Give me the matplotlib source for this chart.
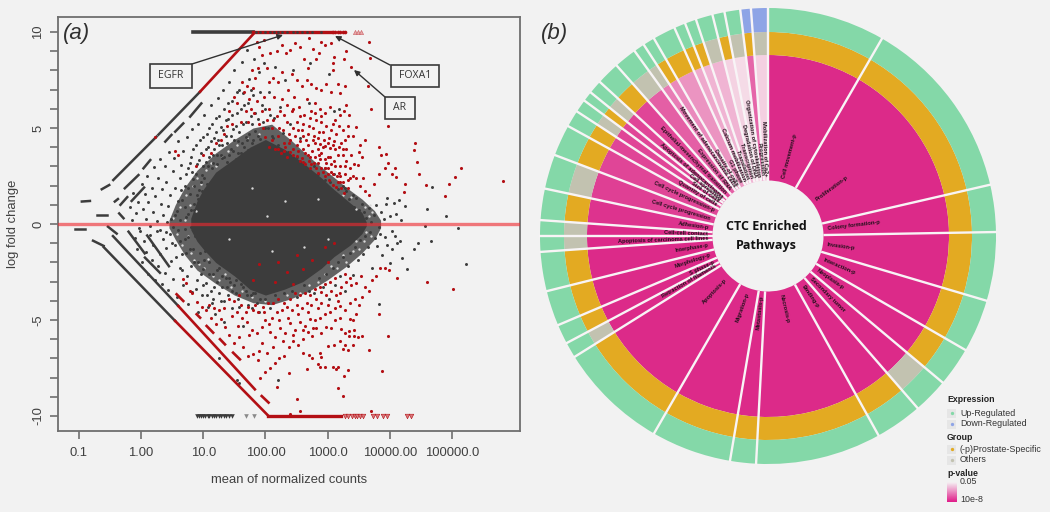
import matplotlib
matplotlib.use("Agg")
import matplotlib.pyplot as plt
from matplotlib.colors import LinearSegmentedColormap
from matplotlib.patches import Rectangle
import numpy as np

plt.rcParams['font.family'] = ['Liberation Sans', 'DejaVu Sans']

W, H = 1050, 512
BG = '#f2f2f2'

# ---- panel a data, x values are log10(mean of normalized counts) ----
x_ticks = [-1, 0, 1, 2, 3, 4, 5]
x_labels = ['0.1', '1.00', '10.0', '100.00', '1000.0', '10000.00', '100000.0']
y_labels = [-10, -5, 0, 5, 10]

# solid core of the cloud
core_x = [0.8, 0.9, 1.0, 1.2, 1.5, 1.75, 2.0, 2.3, 2.6, 2.9, 3.1, 3.36, 3.55, 3.62]
core_hi = [0.3, 1.2, 1.8, 2.7, 3.4, 4.0, 4.4, 3.9, 3.2, 2.4, 1.8, 1.1, 0.6, 0.1]
core_lo = [-0.3, -0.9, -1.3, -2.0, -2.7, -3.4, -3.7, -3.4, -3.0, -2.3, -1.7, -1.1, -0.5, -0.1]

# speckled band round the core
halo_x = [0.45, 0.55, 0.7, 0.9, 1.2, 1.5, 1.8, 2.1, 2.4, 2.7, 3.0, 3.3, 3.55, 3.75, 3.85]
halo_hi = [0.2, 1.0, 1.9, 2.8, 3.7, 4.4, 5.0, 5.2, 4.4, 3.5, 2.7, 1.9, 1.3, 0.7, 0.2]
halo_lo = [-0.2, -0.8, -1.6, -2.4, -3.1, -3.7, -4.1, -4.2, -3.9, -3.5, -2.9, -2.2, -1.5, -0.8, -0.2]

# pale gaps showing through the band
gap_pts = [
    (0.52, 0.3), (0.58, -0.5), (0.62, 0.9), (0.66, -1.1), (0.7, 0.2), (0.72, 1.5), (0.75, -0.6), (0.78, 1.0),
    (0.8, -1.5), (0.83, 2.0), (0.86, -1.9), (0.88, 0.7), (0.9, 2.4), (0.94, -2.1), (0.97, 2.1), (1.02, -2.3),
    (1.05, 2.8), (1.08, -1.8), (1.12, 3.2), (1.15, -2.7), (1.2, 3.0), (1.25, -2.9), (1.3, 3.5), (1.35, -2.6),
    (1.4, 3.8), (1.45, -3.3), (1.55, 4.1), (1.62, -3.5), (1.7, 4.5), (1.78, -3.8), (1.9, 4.7), (2.0, -4.0),
    (2.35, -3.7), (2.55, -3.6), (2.7, -3.2), (2.85, -3.0), (2.95, -2.6), (3.05, -2.2), (3.15, -2.3), (3.25, -1.6),
    (3.3, -2.0), (3.4, -1.4), (3.45, -0.9), (3.5, -1.3), (3.58, -0.9), (3.62, -0.4), (3.66, 0.4), (3.7, -0.6),
    (3.72, 0.6), (3.68, 1.0), (3.6, 0.9), (3.45, 0.8), (3.38, 1.4), (3.25, 1.5), (2.02, 0.4), (2.32, 1.2),
    (2.1, -1.4), (2.62, -1.2), (1.78, 1.9), (1.42, -0.8), (2.85, 1.3), (3.0, -0.8),
]

# runs of points on the low count diagonals (x0, y0, x1, y1)
black_runs = [
    (-0.63, 1.81, -0.51, 2.03), (-0.445, 2.29, 0.25, 4.55), (0.28, 4.65, 0.95, 6.89),
    (-0.42, 1.17, -0.37, 1.3), (-0.26, 1.86, -0.04, 2.55), (0.04, 2.9, 0.15, 3.33),
    (0.39, 4.29, 0.49, 4.64), (0.55, 4.81, 0.68, 5.24), (0.79, 5.59, 0.97, 6.28),
    (-0.71, 0.47, -0.55, 0.47), (-1.06, -0.26, -0.9, -0.26), (-0.95, 1.17, -0.82, 1.2),
    (-0.35, 0.55, -0.28, 0.3), (-0.33, 1.0, -0.22, 1.4), (-0.15, 1.2, 0.05, 1.9),
    (-0.77, -0.87, -0.6, -1.14), (-0.53, -0.14, -0.39, -0.5), (-0.2, -0.4, 0.06, -1.53),
    (-0.6, -1.2, 0.55, -5.05), (-0.45, -0.63, 0.6, -4.27),
    (0.064, -1.75, 0.305, -2.54), (0.1, -0.6, 0.45, -2.2),
]
red_runs = [
    (0.95, 6.89, 1.83, 9.98), (0.55, -5.05, 2.05, -10.0), (0.6, -4.27, 1.83, -8.61),
    (1.94, -8.96, 2.05, -9.3), (0.573, -3.66, 0.68, -4.01), (0.895, -4.7, 0.95, -4.88),
    (1.055, -5.31, 1.16, -5.66), (1.27, -6.0, 1.35, -6.27), (1.48, -6.7, 1.59, -7.05),
]

# points stacked at the +10 / -10 limits
top_black = (0.84, 1.8)
top_red = (1.8, 3.05)
bottom_red = (2.04, 3.22)
top_black_dots = [1.85, 1.92, 2.0, 2.08, 2.13, 2.2, 2.27, 2.35, 2.44, 2.5, 2.58, 2.67, 2.75, 2.9]
top_red_dots = [3.08, 3.12, 3.17, 3.2, 3.24, 3.28]
top_tri = [3.44, 3.49, 3.53]
bottom_black_tri = [0.9, 0.93, 0.96, 1.0, 1.03, 1.07, 1.1, 1.14, 1.18, 1.21, 1.25, 1.29, 1.33, 1.37, 1.42, 1.47]
bottom_grey_tri = [1.68, 1.82]
bottom_red_tri = [3.28, 3.33, 3.39, 3.44, 3.47, 3.52, 3.57, 3.73, 3.79, 3.89, 3.95, 4.27, 4.34]

black_pts = [
    (-0.18, 0.9), (-0.14, 0.2), (-0.12, 1.6), (-0.08, 0.55), (-0.05, 1.15), (-0.03, -0.2), (0.01, 2.1), (0.03, 0.8),
    (0.06, 1.55), (0.08, 0.25), (0.1, 2.5), (0.12, 1.15), (0.15, -0.1), (0.17, 1.9), (0.19, 0.6), (0.21, 2.95),
    (0.23, 1.45), (0.26, 0.15), (0.28, 2.4), (0.3, 3.4), (0.32, 1.05), (0.34, 1.8), (0.36, 0.45), (0.38, 3.0),
    (0.41, 2.2), (0.43, 0.95), (0.45, 3.75), (0.47, 1.5), (0.49, 0.25), (0.51, 2.75), (0.53, 3.45), (0.55, 1.85),
    (0.58, 0.7), (0.6, 4.3), (0.62, 2.4), (0.64, 3.05), (0.66, 1.25), (0.68, 3.8), (0.7, 2.0), (0.72, 0.35),
    (0.74, 4.55), (0.76, 2.9), (0.78, 1.55), (0.8, 3.5), (0.82, 4.95), (0.84, 2.35), (0.86, 1.05), (0.88, 4.1),
    (0.9, 3.1), (0.92, 5.2), (0.94, 1.75), (0.96, 3.7), (0.98, 2.55), (1.0, 4.55), (1.02, 5.7), (1.04, 3.25),
    (1.06, 2.1), (1.08, 4.0), (1.1, 5.0), (1.12, 6.2), (1.14, 2.9), (1.16, 3.6), (1.18, 4.5), (1.2, 5.5),
    (1.22, 3.1), (1.24, 6.55), (1.26, 4.1), (1.28, 5.05), (1.3, 3.45), (1.32, 7.0), (1.34, 6.0), (1.36, 4.6),
    (1.38, 3.25), (1.4, 5.45), (1.42, 7.4), (1.44, 3.9), (1.46, 6.4), (1.48, 4.95), (1.5, 8.0), (1.52, 3.4),
    (1.54, 5.8), (1.56, 4.3), (1.58, 7.0), (1.6, 3.7), (1.62, 8.45), (1.64, 5.2), (1.66, 6.2), (1.68, 4.55),
    (1.7, 9.05), (1.72, 3.85), (1.74, 7.55), (1.76, 5.6), (1.78, 4.2), (1.8, 6.7), (1.82, 8.6), (1.84, 4.85),
    (1.86, 3.95), (1.88, 5.45), (1.9, 7.9), (1.92, 4.45), (1.95, 6.2), (1.97, 8.4), (2.0, 5.0), (2.03, 4.2),
    (2.06, 6.9), (2.1, 4.6), (2.13, 5.5), (2.16, 8.2), (2.2, 4.1), (2.24, 6.1), (2.28, 4.75), (2.32, 7.5),
    (2.36, 3.75), (2.4, 5.2), (2.45, 8.0), (2.5, 3.5), (2.55, 4.5), (2.62, 3.2), (2.7, 6.3), (2.72, 8.4),
    (2.78, 3.0), (2.85, 2.6), (2.95, 2.3), (3.02, 7.8), (3.1, 5.9), (3.18, 6.0), (3.25, 2.0), (3.3, 1.7),
    (3.34, 1.3), (3.4, 1.5), (3.42, 0.9), (3.46, 1.35), (3.5, 0.75), (3.55, 1.05), (3.58, 0.6), (3.62, 0.3),
    (3.66, 0.85), (3.7, 0.1), (3.74, 0.45), (3.78, 1.0), (3.82, -0.15), (3.86, 0.6), (3.9, 0.25), (3.93, 1.05),
    (3.96, 1.35), (4.0, 0.4), (4.03, -0.35), (4.06, 1.1), (4.09, 0.54), (4.15, 1.23), (4.18, 0.2), (4.24, 0.95),
    (4.59, 0.8), (4.9, 0.42), (4.57, -0.09), (5.09, -0.19), (4.68, 1.93), (4.66, -0.9), (4.38, -1.3), (4.45, -1.0),
    (4.28, -2.36), (5.23, -2.1), (3.82, -4.15), (2.2, -8.14), (1.26, -7.0), (1.55, -8.1), (1.57, -8.3), (1.16, -3.9),
    (-0.1, -0.75), (-0.06, -1.3), (-0.02, -0.35), (0.02, -2.0), (0.05, -0.9), (0.08, -1.45), (0.11, -2.6), (0.14, -0.55),
    (0.17, -1.9), (0.2, -1.1), (0.22, -2.9), (0.25, -0.35), (0.28, -2.2), (0.3, -1.55), (0.33, -3.1), (0.35, -0.8),
    (0.38, -2.55), (0.41, -1.25), (0.44, -3.45), (0.47, -0.5), (0.49, -1.95), (0.52, -2.85), (0.55, -1.1), (0.58, -3.8),
    (0.6, -0.3), (0.63, -2.3), (0.66, -1.55), (0.68, -3.2), (0.71, -0.8), (0.74, -2.7), (0.76, -4.15), (0.79, -1.3),
    (0.82, -3.55), (0.85, -2.0), (0.87, -0.6), (0.9, -2.9), (0.92, -4.6), (0.95, -1.5), (0.98, -3.7), (1.0, -2.35),
    (1.03, -1.4), (1.05, -3.05), (1.07, -4.3), (1.1, -2.0), (1.13, -3.5), (1.16, -2.6), (1.19, -4.7), (1.22, -3.0),
    (1.25, -2.3), (1.28, -4.0), (1.31, -3.3), (1.34, -5.1), (1.37, -2.8), (1.4, -3.7), (1.43, -3.0), (1.46, -4.4),
    (1.5, -3.2), (1.53, -2.9), (1.56, -3.9), (1.6, -3.1), (1.64, -5.3), (1.68, -3.5), (1.72, -4.2), (1.76, -3.7),
    (1.8, -3.6), (1.86, -4.1), (1.92, -3.9), (2.0, -3.9), (2.08, -4.4), (2.16, -3.7), (2.3, -3.6), (2.42, -3.5),
    (2.5, -3.8), (2.62, -3.2), (2.7, -3.5), (2.78, -3.6), (2.86, -2.8), (2.92, -3.3), (2.98, -2.6), (3.02, -3.9),
    (3.08, -2.3), (3.12, -3.2), (3.16, -2.0), (3.2, -2.7), (3.24, -1.7), (3.28, -3.5), (3.32, -2.2), (3.36, -1.5),
    (3.4, -2.65), (3.44, -1.2), (3.48, -1.9), (3.52, -0.85), (3.56, -1.55), (3.6, -0.6), (3.64, -1.2), (3.68, -0.4),
    (3.72, -2.3), (3.76, -0.75), (3.8, -1.15), (3.84, -0.5), (3.88, -1.6), (3.92, -0.7), (3.96, -1.1), (4.0, -2.05),
    (4.04, -1.3), (4.08, -0.6), (4.12, -1.0), (4.16, -0.9), (4.2, -1.75), (0.75, 0.5), (0.8, -0.15), (0.85, 0.75),
    (0.7, -0.25), (0.62, 0.2), (0.52, -0.15), (0.42, 0.1), (0.3, -0.3), (0.92, 1.3), (0.98, 1.7), (0.86, 2.0),
    # denser band left of and above the core
    (0.55, 0.45), (0.6, 1.2), (0.65, 1.75), (0.7, 0.9), (0.72, 2.6), (0.75, 1.9), (0.78, 3.2), (0.8, 0.75),
    (0.82, 2.7), (0.84, 3.9), (0.88, 2.6), (0.9, 1.5), (0.93, 3.35), (0.95, 4.4), (0.97, 2.2), (1.0, 3.0),
    (1.02, 2.4), (1.04, 3.9), (1.06, 4.7), (1.08, 3.0), (1.1, 3.5), (1.12, 4.3), (1.14, 5.2), (1.16, 3.2),
    (1.18, 3.9), (1.2, 4.8), (1.22, 3.6), (1.24, 4.4), (1.26, 5.6), (1.28, 3.6), (1.3, 4.1), (1.32, 4.9),
    (1.34, 3.5), (1.36, 5.4), (1.38, 4.2), (1.4, 6.3), (1.42, 3.6), (1.44, 4.6), (1.46, 5.7), (1.48, 3.8),
    (1.5, 4.4), (1.52, 5.1), (1.54, 6.9), (1.56, 3.7), (1.58, 4.8), (1.6, 6.0), (1.62, 4.2), (1.64, 6.8),
    (1.66, 4.0), (1.68, 5.3), (1.7, 4.4), (1.72, 6.3), (1.74, 4.7), (1.76, 7.0), (1.78, 5.2), (1.8, 4.4),
    (1.84, 5.8), (1.88, 4.6), (1.92, 6.9), (1.96, 5.3), (2.0, 6.0), (2.04, 5.0), (2.08, 5.7), (2.12, 4.5),
    (0.4, -0.4), (0.5, -1.0), (0.56, -1.7), (0.62, -0.9), (0.66, -2.4), (0.72, -1.5), (0.76, -0.7), (0.8, -2.2),
    (0.84, -1.3), (0.88, -3.4), (0.92, -2.0), (0.96, -2.6), (1.0, -3.2), (1.02, -1.9), (1.06, -3.7), (1.1, -2.6),
    (1.14, -4.1), (1.18, -3.3), (1.22, -2.4), (1.26, -3.6), (1.3, -2.7), (1.34, -4.0), (1.38, -3.3), (1.42, -2.8),
    (1.46, -3.5), (1.52, -3.6), (1.58, -4.3), (1.64, -3.3), (1.7, -3.7), (1.78, -4.4), (1.84, -3.6), (1.9, -4.6),
    (2.96, 2.9), (3.04, 2.2), (3.1, 2.6), (3.16, 1.8), (3.22, 1.4), (3.28, 1.9), (3.34, 0.8), (3.42, 0.5),
]

red_pts = [
    (3.67, 9.5), (3.68, 8.63), (3.37, 8.2), (3.64, 7.2), (3.7, 6.0), (3.97, 5.1), (4.4, 4.24), (4.39, 3.85),
    (4.44, 3.25), (4.47, 2.6), (5.14, 2.92), (5.04, 2.45), (4.95, 2.1), (5.81, 2.26), (4.58, 2.03), (4.89, 1.48),
    (4.24, 2.07), (4.22, 1.68), (3.92, 2.9), (3.97, 3.2), (3.82, 2.6), (4.08, 2.9), (4.03, 2.6), (4.1, 2.45),
    (3.85, 3.6), (3.82, 4.0), (3.93, 3.65), (3.75, 2.1), (3.6, 4.4), (3.52, 4.1), (3.5, 3.75), (3.46, 5.05),
    (3.4, 4.6), (3.33, 5.1), (3.35, 5.7), (3.3, 6.2), (3.27, 5.9), (3.2, 6.8), (3.28, 7.2), (3.16, 7.3),
    (3.1, 8.7), (3.08, 8.4), (3.09, 8.0), (3.26, 8.6), (3.29, 9.0), (3.05, 9.4), (2.95, 9.3), (2.9, 9.5),
    (2.86, 8.9), (2.82, 8.6), (2.76, 9.1), (2.7, 9.7), (2.68, 8.1), (2.62, 8.6), (2.55, 9.2), (2.48, 9.4),
    (2.4, 9.05), (2.33, 8.9), (2.27, 9.3), (2.18, 9.0), (2.08, 8.9), (2.12, 7.6), (2.2, 7.4), (2.27, 7.9),
    (2.36, 7.0), (2.42, 7.8), (2.5, 7.5), (2.58, 7.2), (2.66, 7.5), (2.74, 7.3), (2.82, 7.1), (2.9, 7.0),
    (2.98, 7.3), (3.05, 6.9), (2.8, 6.3), (2.88, 6.0), (2.96, 5.8), (3.03, 6.1), (3.12, 5.4), (3.18, 5.1),
    (3.24, 4.9), (3.28, 4.4), (3.22, 4.2), (3.3, 3.9), (3.38, 3.6), (3.3, 3.3), (3.36, 2.9), (3.42, 3.1),
    (3.46, 2.4), (3.4, 2.5), (3.52, 2.0), (3.56, 2.4), (3.6, 1.7), (3.66, 1.5), (3.48, 3.05), (3.55, 3.5),
    (1.86, 9.5), (1.9, 9.2), (1.95, 8.8), (1.98, 9.6), (2.02, 8.1), (2.05, 7.4), (1.88, 8.1), (1.84, 7.6),
    (1.8, 7.1), (1.78, 8.0), (1.74, 6.5), (1.7, 7.2), (1.66, 6.9), (1.62, 7.4), (1.6, 5.3), (1.55, 6.3),
    (1.5, 6.6), (1.46, 5.2), (1.42, 5.9), (1.38, 5.1), (1.34, 4.7), (1.28, 4.4), (1.2, 4.2), (1.12, 3.7),
    (1.0, 3.6), (0.88, 3.0), (0.6, 3.6), (0.55, 3.8), (1.68, 5.9), (1.72, 5.3), (1.76, 6.0), (1.82, 5.8),
    (1.86, 6.4), (1.9, 5.2), (1.94, 5.9), (1.98, 6.6), (2.02, 5.4), (2.06, 6.0), (2.1, 5.0), (2.14, 6.6),
    (2.18, 5.6), (2.22, 5.0), (2.26, 6.5), (2.3, 5.7), (2.34, 6.2), (2.38, 4.7), (2.42, 5.9), (2.46, 6.6),
    (2.5, 5.3), (2.54, 6.1), (2.58, 4.9), (2.62, 5.7), (2.66, 6.5), (2.7, 5.1), (2.74, 5.9), (2.78, 4.6),
    (2.82, 5.4), (2.86, 4.8), (2.9, 5.3), (2.94, 4.4), (2.98, 5.1), (3.02, 4.5), (3.06, 4.9), (3.1, 4.3),
    (3.14, 4.7), (3.18, 4.0), (2.0, 4.55), (2.05, 4.0), (2.1, 4.35), (2.15, 3.9), (2.2, 4.6), (2.25, 3.7),
    (2.3, 4.2), (2.35, 3.5), (2.4, 4.4), (2.45, 3.6), (2.5, 4.1), (2.55, 3.3), (2.6, 3.9), (2.65, 4.4),
    (2.7, 3.3), (2.75, 3.8), (2.8, 4.2), (2.85, 3.2), (2.9, 3.7), (2.95, 2.9), (3.0, 3.5), (3.05, 2.7),
    (3.1, 3.3), (3.15, 2.5), (3.2, 3.0), (3.25, 3.6), (3.12, 3.9), (3.04, 3.95), (2.96, 4.05), (2.88, 4.15),
    (2.72, 2.9), (2.78, 3.2), (2.84, 2.65), (2.9, 2.9), (2.96, 2.5), (3.02, 2.3), (3.08, 2.05), (3.14, 1.95),
    (3.2, 2.2), (3.26, 1.6), (3.32, 2.3), (2.6, 3.25), (2.5, 3.55), (2.4, 3.75), (2.3, 3.8), (2.2, 3.9),
    (0.225, 4.55), (3.06, 3.1), (2.98, 3.2), (2.68, 3.6), (2.58, 3.45), (3.18, 2.65), (3.22, 1.9), (3.28, 2.6),
    (3.87, -7.64), (3.7, -9.72), (2.56, -9.74), (2.4, -9.88), (2.18, -8.5), (2.51, -9.13), (3.17, -8.56), (3.25, -8.96),
    (3.26, -7.92), (3.33, -7.62), (2.38, -7.78), (2.66, -7.54), (4.6, -3.0), (5.01, -3.4), (4.11, -2.83), (3.83, -4.67),
    (3.97, -5.85), (3.67, -6.58), (2.85, -7.3), (2.87, -7.45), (2.96, -7.45), (3.08, -7.45), (3.17, -7.45), (3.14, -7.55),
    (2.6, -6.7), (2.7, -6.8), (2.75, -7.0), (2.88, -6.7), (2.9, -6.95), (3.0, -6.35), (3.1, -6.3), (3.25, -6.5),
    (3.32, -6.55), (3.2, -6.1), (3.28, -6.3), (3.4, -6.3), (3.48, -5.9), (3.42, -5.85), (3.35, -5.85), (3.28, -5.7),
    (3.22, -5.45), (3.35, -5.55), (3.42, -5.5), (3.55, -5.85), (3.45, -4.7), (3.4, -5.0), (3.36, -4.95), (3.2, -4.9),
    (3.12, -5.0), (3.05, -5.4), (2.98, -5.35), (2.9, -5.7), (2.82, -5.4), (2.75, -5.85), (2.68, -5.6), (2.6, -6.0),
    (2.52, -6.3), (2.45, -6.1), (2.38, -6.4), (2.3, -6.85), (2.22, -7.0), (2.15, -7.25), (2.08, -7.5), (2.0, -7.7),
    (1.92, -8.0), (2.02, -6.7), (1.95, -6.2), (1.88, -7.1), (1.8, -6.75), (1.72, -6.9), (1.64, -6.4), (1.58, -5.9),
    (1.5, -6.2), (1.42, -5.8), (1.35, -5.35), (1.28, -4.95), (1.2, -5.2), (1.12, -4.9), (1.05, -4.5), (0.98, -4.3),
    (0.9, -4.05), (0.82, -3.6), (0.78, -3.5), (0.72, -3.05), (0.68, -2.85), (1.46, -4.8), (1.54, -4.6), (1.62, -4.9),
    (1.7, -5.1), (1.78, -5.5), (1.86, -5.7), (1.94, -5.35), (2.0, -5.0), (2.08, -5.6), (2.16, -5.9), (2.24, -5.4),
    (2.32, -5.7), (2.4, -5.15), (2.48, -5.5), (2.56, -5.1), (2.64, -5.3), (2.72, -4.95), (2.8, -5.0), (2.88, -4.9),
    (2.96, -4.7), (3.04, -4.6), (3.12, -4.4), (3.2, -4.25), (3.28, -4.5), (3.36, -4.1), (3.44, -3.9), (3.5, -4.2),
    (3.55, -3.8), (3.6, -3.3), (3.66, -3.5), (3.72, -2.9), (3.78, -2.7), (3.84, -2.3), (3.92, -2.3), (3.98, -2.4),
    (2.1, -4.9), (2.18, -4.6), (2.26, -4.5), (2.34, -4.3), (2.42, -4.5), (2.5, -4.2), (2.58, -4.4), (2.66, -4.1),
    (2.74, -4.2), (2.82, -3.9), (2.9, -4.1), (2.98, -3.7), (3.06, -3.5), (3.14, -3.7), (3.22, -3.3), (3.3, -3.0),
    (3.38, -3.2), (3.46, -3.05), (3.54, -2.7), (1.72, -4.3), (1.8, -4.5), (1.88, -4.6), (1.96, -4.3), (2.04, -4.1),
    (1.42, -3.9), (1.34, -4.4), (1.58, -3.7), (2.9, -3.55), (2.2, -2.0), (2.5, -1.6), (2.75, -1.9), (2.95, -1.2),
    (1.9, -2.1), (2.35, -2.5), (3.1, -1.0), (2.6, -2.35), (3.0, -2.0), (2.15, -3.0), (2.45, -3.1), (1.8, -2.9),
    # dense red just above the core
    (2.32, 4.0), (2.38, 4.2), (2.44, 3.9), (2.48, 4.6), (2.52, 3.8), (2.56, 4.3), (2.6, 4.6), (2.64, 3.7),
    (2.68, 4.1), (2.72, 3.5), (2.76, 4.4), (2.8, 3.5), (2.84, 3.9), (2.88, 3.4), (2.92, 4.0), (2.96, 3.4),
    (3.0, 2.9), (3.04, 3.5), (3.08, 2.6), (3.12, 3.0), (3.16, 2.2), (3.2, 2.5), (3.24, 2.2), (3.28, 3.0),
    (3.32, 1.9), (3.36, 2.4), (2.74, 3.1), (2.82, 2.9), (2.86, 3.6), (2.92, 2.7), (3.0, 2.6), (2.64, 3.1),
    (2.44, 5.0), (2.52, 4.9), (2.6, 5.2), (2.68, 4.7), (2.76, 5.0), (2.84, 4.5), (2.92, 4.8), (3.0, 4.2),
    (3.08, 4.1), (3.16, 3.6), (3.24, 3.9), (3.32, 4.6), (2.56, 5.6), (2.72, 5.5), (2.8, 5.8), (2.9, 5.6),
    (3.08, 5.2), (3.2, 5.7), (2.34, 5.3), (2.24, 5.9), (2.44, 6.0), (1.96, 5.0), (2.12, 5.4), (2.28, 4.9),
    # dense red just under the core
    (2.2, -3.9), (2.3, -4.1), (2.4, -3.9), (2.48, -3.6), (2.56, -3.7), (2.64, -3.6), (2.72, -3.7), (2.8, -3.4),
    (2.88, -3.3), (2.96, -3.1), (3.04, -3.0), (3.12, -2.8), (3.2, -3.6), (3.28, -2.6), (3.36, -2.8), (2.12, -4.1),
    (1.98, -4.6), (1.84, -4.2), (1.68, -4.6), (1.6, -4.2), (1.5, -4.0), (1.26, -4.5), (1.18, -4.4), (1.1, -4.2),
    (2.06, -5.2), (2.22, -5.0), (2.36, -4.9), (2.52, -4.7), (2.68, -4.6), (2.84, -4.4), (3.0, -4.2), (3.16, -4.0),
    (1.56, -5.3), (1.74, -5.8), (1.9, -6.6), (2.12, -6.4), (2.28, -6.1), (2.44, -5.8), (2.6, -5.5), (2.76, -5.4),
]

# ---- panel b data, angles in degrees clockwise from the top ----
sector_edges = [0, 30, 77, 89, 106.5, 120, 130, 139, 151, 183, 189.6, 210, 238, 242, 247, 256, 266, 270, 274, 282,
                290.8, 298.8, 303.1, 306.4, 309, 312.5, 318.4, 324.2, 327, 330, 335.8, 338.7, 341.6, 345.9, 349,
                353, 355.7, 360]
sector_labels = ['Cell movement-p', 'Proliferation-p', 'Colony formation-p', 'Invasion-p', 'Interaction-p',
                 'Neoplasia-p', 'Secondary tumor', 'Binding-p', 'Necrosis-p', 'Metastasis-p', 'Migration-p',
                 'Apoptosis-p', 'Retraction of filaments', 'S phase-p', 'Morphology-p', 'Interphase-p',
                 'Apoptosis of carcinoma cell lines', 'Cell-cell contact', 'Adhesion-p', 'Cell cycle progression',
                 'Cell cycle progression-p', 'Quantity of cells', 'Size of cells', 'Cell spreading',
                 'Apoptosis of adenocarcinoma', 'Epithelial-mesenchymal transition', 'Expression of RNA',
                 'Movement of adenocarcinoma cells', 'Density of cells', 'G1 phase', 'Calcium mobilization',
                 'Translation', 'Transcription', 'Degradation of DNA', 'Organization of cytoskeleton',
                 'Progression', 'Mobilization of Ca2+']
sector_level = [1.0, 1.0, 1.0, 1.0, 1.0, 1.0, 1.0, 1.0, 1.0, 1.0, 1.0, 1.0, 1.0, 1.0, 1.0, 1.0, 1.0, 1.0, 0.95, 0.88,
                0.85, 0.85, 0.85, 0.85, 0.85, 0.85, 0.71, 0.55, 0.48, 0.42, 0.31, 0.24, 0.24, 0.08, 0.03, 0.67, 0.09]
sector_group = ['P', 'P', 'P', 'P', 'P', 'P', 'O', 'P', 'P', 'P', 'P', 'P', 'O', 'P', 'P', 'P', 'O', 'O', 'P', 'O',
                'P', 'P', 'O', 'P', 'O', 'P', 'O', 'O', 'P', 'P', 'P', 'P', 'O', 'P', 'O', 'P', 'O']
sector_expr = ['U'] * 35 + ['D', 'D']

group_colors = {'P': '#e3aa22', 'O': '#c2c2b0'}
expr_colors = {'U': '#84d8a8', 'D': '#8ea4e6'}
pink = LinearSegmentedColormap.from_list('pv', ['#f6e0ea', '#dc2a89'])


def fx(px):
    return px / W


def fy(py):
    return 1 - py / H


fig = plt.figure(figsize=(W / 100, H / 100), dpi=100, facecolor=BG)

# ---- (a) MA plot ----
ax = fig.add_axes([fx(58), fy(431), 462 / W, 414 / H], facecolor=BG)
ax.set_xlim(-1.333, 6.09)
ax.set_ylim(-10.78, 10.78)

dark = '#3c3c3c'
red = '#b30f14'

ax.fill_between(halo_x, halo_lo, halo_hi, color='#626262', lw=0, zorder=1)
ax.fill_between(core_x, core_lo, core_hi, color=dark, lw=0, zorder=1)
gx, gy = zip(*gap_pts)
ax.scatter(gx, gy, s=3, color='#d8d8d8', lw=0, zorder=1.5)
for x0, y0, x1, y1 in black_runs:
    ax.plot([x0, x1], [y0, y1], color=dark, lw=1.8, zorder=2)
for x0, y0, x1, y1 in red_runs:
    ax.plot([x0, x1], [y0, y1], color=red, lw=1.9, zorder=3)
ax.plot(top_black, [10, 10], color=dark, lw=2.6, zorder=3)
ax.plot(top_red, [10, 10], color=red, lw=2.4, zorder=3)
ax.plot(bottom_red, [-10, -10], color=red, lw=2.4, zorder=3)

bx, by = zip(*black_pts)
rx, ry = zip(*red_pts)
ax.scatter(bx, by, s=4.6, color=dark, lw=0, zorder=2)
ax.scatter(rx, ry, s=5.0, color=red, lw=0, zorder=3)
ax.scatter(top_black_dots, [10] * len(top_black_dots), s=4, color=dark, lw=0, zorder=4)
ax.scatter(top_red_dots, [10] * len(top_red_dots), s=7, color=red, lw=0, zorder=4)
ax.scatter(top_tri, [10] * len(top_tri), s=9, marker='^', facecolor='#e9a9ab', edgecolor='#c85a5e', lw=0.4, zorder=4)
ax.scatter(bottom_black_tri, [-10] * len(bottom_black_tri), s=11, marker='v', color=dark, lw=0, zorder=4)
ax.scatter(bottom_grey_tri, [-10, -10], s=11, marker='v', color='#8a8a8a', lw=0, zorder=4)
ax.scatter(bottom_red_tri, [-10] * len(bottom_red_tri), s=11, marker='v', facecolor='#d9797c', edgecolor=red, lw=0.4, zorder=4)

ax.axhline(0, color='#ee2a30', alpha=0.62, lw=2.4, zorder=5)

for side in ['left', 'right', 'top', 'bottom']:
    ax.spines[side].set_color('#6f6f6f')
    ax.spines[side].set_linewidth(1.3)
ax.set_xticks(x_ticks)
ax.set_xticklabels(x_labels)
ax.set_yticks(y_labels)
ax.set_yticklabels(y_labels, rotation=90, va='center')
ax.set_yticks(range(-10, 11), minor=True)
ax.tick_params(axis='both', which='both', length=5.8, width=1.2, color='#6f6f6f', labelcolor='#404040', labelsize=9.4)
ax.tick_params(axis='x', pad=6)
ax.tick_params(axis='y', pad=4)

fig.text(fx(289), fy(480), 'mean of normalized counts', ha='center', va='center', fontsize=9.4, color='#404040')
fig.text(fx(13), fy(224), 'log fold change', ha='center', va='center', rotation=90, fontsize=9.4, color='#404040')
fig.text(fx(63), fy(33), '(a)', ha='left', va='center', fontsize=16, style='italic', color='#303030')
fig.text(fx(541), fy(33), '(b)', ha='left', va='center', fontsize=16, style='italic', color='#303030')

callouts = [('EGFR', (150, 64, 42, 24), (192, 64), (283, 35)),
            ('FOXA1', (391, 65, 48, 22), (390, 65), (335, 36)),
            ('AR', (385, 97, 30, 22), (385, 97), (354, 70))]
for name, box, start, tip in callouts:
    fig.add_artist(Rectangle((fx(box[0]), fy(box[1] + box[3])), box[2] / W, box[3] / H, transform=fig.transFigure,
                             facecolor=BG, edgecolor='#3a3a3a', lw=1.2, zorder=6))
    fig.text(fx(box[0] + box[2] / 2), fy(box[1] + box[3] / 2), name, ha='center', va='center',
             family=['Open Sans', 'DejaVu Sans'], fontsize=7.6, color='#333333', zorder=7)
    ax.annotate('', xy=(fx(tip[0]), fy(tip[1])), xytext=(fx(start[0]), fy(start[1])),
                xycoords='figure fraction', textcoords='figure fraction', zorder=7,
                arrowprops=dict(arrowstyle='-|>', color='#303030', lw=1.0, mutation_scale=8, shrinkA=0, shrinkB=0))

# ---- (b) donut ----
cx, cy, half = 768, 236, 232
pax = fig.add_axes([fx(cx - half), fy(cy + half), 2 * half / W, 2 * half / H], projection='polar')
pax.set_theta_zero_location('N')
pax.set_theta_direction(-1)
pax.set_ylim(0, half)
pax.axis('off')

r_hole, r_pink, r_gold, r_green = 55.5, 181, 204, 228
edges = np.radians(sector_edges)
starts = edges[:-1]
widths = np.diff(edges)
pax.bar(starts, r_pink - r_hole, widths, bottom=r_hole, align='edge', lw=0, color=[pink(float(v)) for v in sector_level])
pax.bar(starts, r_gold - r_pink, widths, bottom=r_pink, align='edge', lw=0, color=[group_colors[g] for g in sector_group])
pax.bar(starts, r_green - r_gold, widths, bottom=r_gold, align='edge', lw=0, color=[expr_colors[e] for e in sector_expr])
pax.vlines(edges[:-1], r_hole, r_green + 1, color='#f8f4f6', lw=1.7)

for i, name in enumerate(sector_labels):
    mid = (sector_edges[i] + sector_edges[i + 1]) / 2
    if mid < 180:
        rot, ha = 90 - mid, 'left'
    else:
        rot, ha = 270 - mid, 'right'
    pax.text(np.radians(mid), 60, name, rotation=rot, rotation_mode='anchor', ha=ha, va='center',
             fontsize=4.1, fontweight='bold', color='#20101a')

fig.text(fx(766), fy(236), 'CTC Enriched\nPathways', ha='center', va='center', fontsize=9,
         fontweight='bold', family=['Open Sans', 'DejaVu Sans'], color='#111111', linespacing=1.6)

# ---- legend ----
legend_rows = [('Expression', 400, None), ('Up-Regulated', 413, expr_colors['U']),
               ('Down-Regulated', 424, expr_colors['D']), ('Group', 437, None),
               ('(-p)Prostate-Specific', 449, group_colors['P']), ('Others', 460, group_colors['O']),
               ('p-value', 474, None)]
for name, py, col in legend_rows:
    if col is None:
        fig.text(fx(947), fy(py), name, fontsize=6.3, fontweight='bold', va='center', color='#222222')
    else:
        fig.add_artist(Rectangle((fx(947), fy(py + 4.5)), 9 / W, 9 / H, transform=fig.transFigure,
                                 facecolor='#e6e6e6', edgecolor='none'))
        fig.add_artist(plt.Line2D([fx(951.5)], [fy(py)], marker='o', ms=2.4, color=col, mew=0,
                                  transform=fig.transFigure))
        fig.text(fx(960), fy(py), name, fontsize=6.4, va='center', color='#333333')

bar = fig.add_axes([fx(947), fy(502), 10 / W, 20 / H])
bar.imshow(np.linspace(0, 1, 30).reshape(-1, 1), cmap=LinearSegmentedColormap.from_list('pb', ['#f5f0f3', '#e01e8a']), aspect='auto')
bar.axis('off')
fig.text(fx(960), fy(482), '0.05', fontsize=6.4, va='center', color='#333333')
fig.text(fx(960), fy(500), '10e-8', fontsize=6.4, va='center', color='#333333')

fig.savefig('out.png', dpi=100, facecolor=BG)
